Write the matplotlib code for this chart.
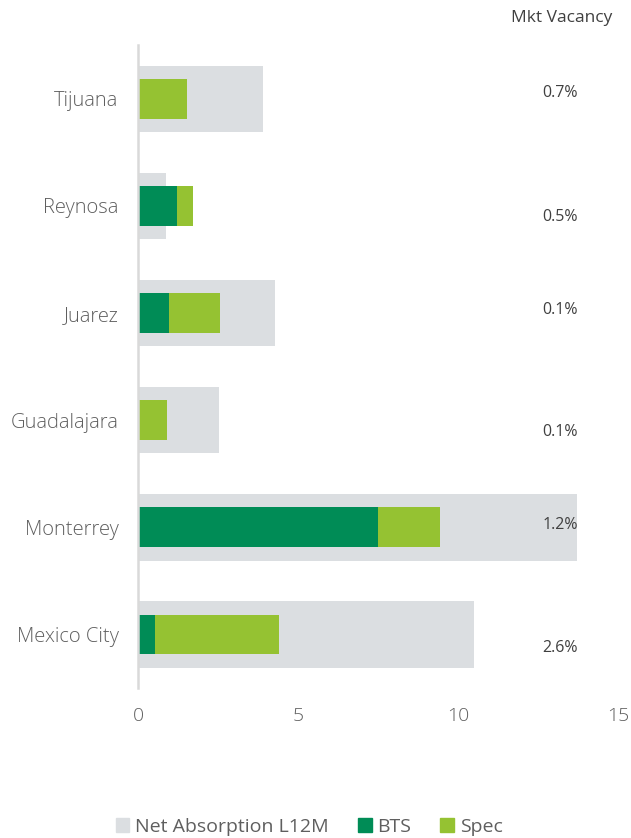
import matplotlib.pyplot as plt
from matplotlib.patches import Patch

plt.rcParams['font.family'] = ['Open Sans', 'DejaVu Sans']

# values
cities = ["Tijuana", "Reynosa", "Juarez", "Guadalajara", "Monterrey", "Mexico City"]
net_absorption = [3.9, 0.86, 4.27, 2.52, 13.72, 10.5]
bts = [0.0, 1.22, 0.98, 0.0, 7.5, 0.54]
spec = [1.52, 0.5, 1.58, 0.92, 1.93, 3.87]
vacancy = ["0.7%", "0.5%", "0.1%", "0.1%", "1.2%", "2.6%"]
x_ticks = [0, 5, 10, 15]

# vertical nudge of the vacancy labels (rows units)
vac_offset = [-0.05, 0.1, -0.03, 0.11, -0.02, 0.13]

gray = "#DBDEE1"
dark_green = "#008C56"
light_green = "#95C232"
txt = "#5F5F5F"

fig = plt.figure(figsize=(6.31, 8.38), dpi=100)
ax = fig.add_axes([0.2187, 0.179, 0.7607, 0.767])

y = list(range(len(cities)))
ax.barh(y, net_absorption, height=0.62, color=gray, zorder=1)
ax.barh(y, bts, height=0.37, color=dark_green, zorder=2)
ax.barh(y, spec, left=bts, height=0.37, color=light_green, zorder=2)

for i, v in enumerate(vacancy):
    ax.text(13.75, i + vac_offset[i], v, ha='right', va='center',
            fontsize=11.5, color="#404040", clip_on=False)

fig.text(0.97, 0.978, "Mkt Vacancy", ha='right', va='center', fontsize=12.5, color="#404040")

ax.set_xlim(0, 15)
ax.set_ylim(5.5, -0.5)
ax.set_yticks(y)
ax.set_yticklabels(cities, fontsize=14.5, color=txt, fontweight='light')
ax.set_xticks(x_ticks)
ax.set_xticklabels([str(t) for t in x_ticks], fontsize=14, color=txt, fontweight='light')
ax.tick_params(axis='both', length=0)
ax.tick_params(axis='y', pad=14)
ax.tick_params(axis='x', pad=14)

for s in ['top', 'right', 'bottom']:
    ax.spines[s].set_visible(False)
ax.spines['left'].set_color("#D9D9D9")
ax.spines['left'].set_linewidth(1.8)
ax.spines['left'].set_zorder(3)

handles = [Patch(color=gray, label="Net Absorption L12M"),
           Patch(color=dark_green, label="BTS"),
           Patch(color=light_green, label="Spec")]
leg = fig.legend(handles=handles, loc='lower center', bbox_to_anchor=(0.49, -0.018),
                 ncol=3, frameon=False, fontsize=14, handlelength=0.7, handleheight=0.7,
                 handletextpad=0.3, columnspacing=1.5)
for t in leg.get_texts():
    t.set_color(txt)

fig.savefig("out.png", dpi=100)
